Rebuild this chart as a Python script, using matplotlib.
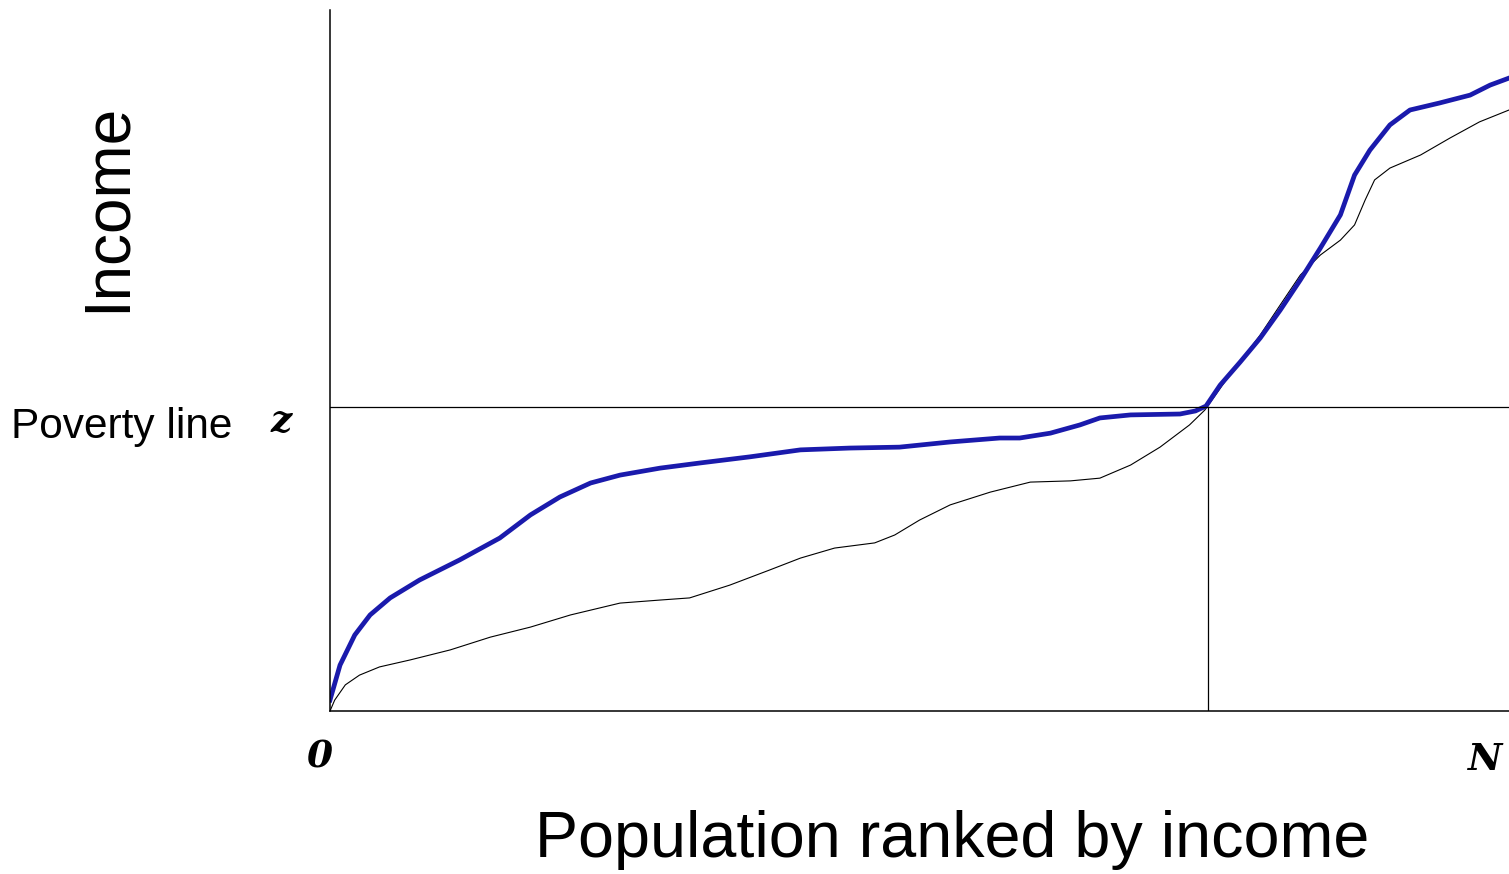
import matplotlib
matplotlib.use('Agg')
import matplotlib.pyplot as plt

plt.rcParams['font.family'] = ['Liberation Sans', 'DejaVu Sans']

# Population share (%) and income (poverty line z = 100)
pop_blue = [0, 0.85, 2.1, 3.4, 5.1, 7.6, 11.0, 14.4, 17.0, 19.5, 22.1, 24.6,
            28.0, 31.4, 35.6, 39.9, 44.1, 48.3, 52.6, 56.8, 58.5, 61.1, 63.6,
            65.3, 67.9, 72.1, 73.4, 74.3, 75.5, 77.2, 78.9, 80.6, 82.3, 84.0,
            85.7, 86.9, 88.2, 89.9, 91.6, 94.1, 96.7, 98.4, 100]
inc_blue = [3.6, 15.1, 25.0, 31.6, 37.2, 43.1, 49.7, 56.9, 64.5, 70.4, 75.0,
            77.6, 79.9, 81.6, 83.6, 85.9, 86.5, 86.8, 88.5, 89.8, 89.8, 91.4,
            94.1, 96.4, 97.4, 97.7, 98.7, 100.3, 107.2, 114.8, 122.7, 131.9,
            141.8, 152.3, 163.2, 176.3, 184.5, 192.8, 197.7, 200.0, 202.6,
            205.9, 208.2]

pop_black = [0, 0.4, 1.3, 2.5, 4.2, 6.8, 10.2, 13.6, 17.0, 20.4, 24.6, 28.0,
             30.5, 33.9, 37.3, 39.9, 42.8, 46.2, 47.9, 50.0, 52.6, 56.0, 59.4,
             62.8, 65.3, 67.9, 70.4, 72.9, 74.2, 75.1, 76.3, 78.9, 80.6, 82.3,
             84.0, 85.7, 86.9, 87.8, 88.6, 89.9, 92.5, 95.0, 97.5, 100]
inc_black = [0, 3.6, 8.6, 11.8, 14.5, 16.8, 20.1, 24.3, 27.6, 31.6, 35.5,
             36.5, 37.2, 41.4, 46.4, 50.3, 53.6, 55.3, 57.9, 62.8, 67.8, 72.0,
             75.3, 75.7, 76.6, 80.9, 86.8, 94.1, 99.0, 103.9, 110.5, 123.7,
             133.6, 143.4, 150.0, 154.9, 159.9, 168.1, 174.7, 178.6, 182.9,
             188.5, 193.8, 197.7]

z_line = 100
z_pop = 74.5

W, H = 1509, 874
fig = plt.figure(figsize=(W / 100, H / 100), dpi=100)
ax = fig.add_axes([330 / W, (H - 711) / H, 1179 / W, 701 / H])

ax.plot(pop_black, inc_black, color='black', linewidth=0.8)
ax.plot(pop_blue, inc_blue, color='#1a1aac', linewidth=3.4)

ax.axhline(z_line, color='black', linewidth=0.9)
ax.plot([z_pop, z_pop], [0, z_line], color='black', linewidth=0.9)

ax.set_xlim(0, 100)
ax.set_ylim(0, 230.6)
ax.spines['top'].set_visible(False)
ax.spines['right'].set_visible(False)
ax.spines['left'].set_linewidth(1.1)
ax.spines['bottom'].set_linewidth(1.1)
ax.set_xticks([])
ax.set_yticks([])

def fx(px):
    return px / W

def fy(py):
    return 1 - py / H

fig.text(fx(108), fy(207), 'Income', rotation=90, fontsize=46,
         ha='center', va='center')
fig.text(fx(952), fy(840), 'Population ranked by income', fontsize=46.5,
         ha='center', va='center')
fig.text(fx(122), fy(427), 'Poverty line', fontsize=30.5,
         ha='center', va='center')

serif = dict(family='DejaVu Serif', fontweight='heavy', fontstyle='italic',
             fontsize=27, ha='center', va='center')
fig.text(fx(281), fy(421), 'z', **serif)
fig.text(fx(320), fy(757), '0', **serif)
fig.text(fx(1485), fy(760), 'N', **serif)

fig.savefig('out.png', dpi=100)
